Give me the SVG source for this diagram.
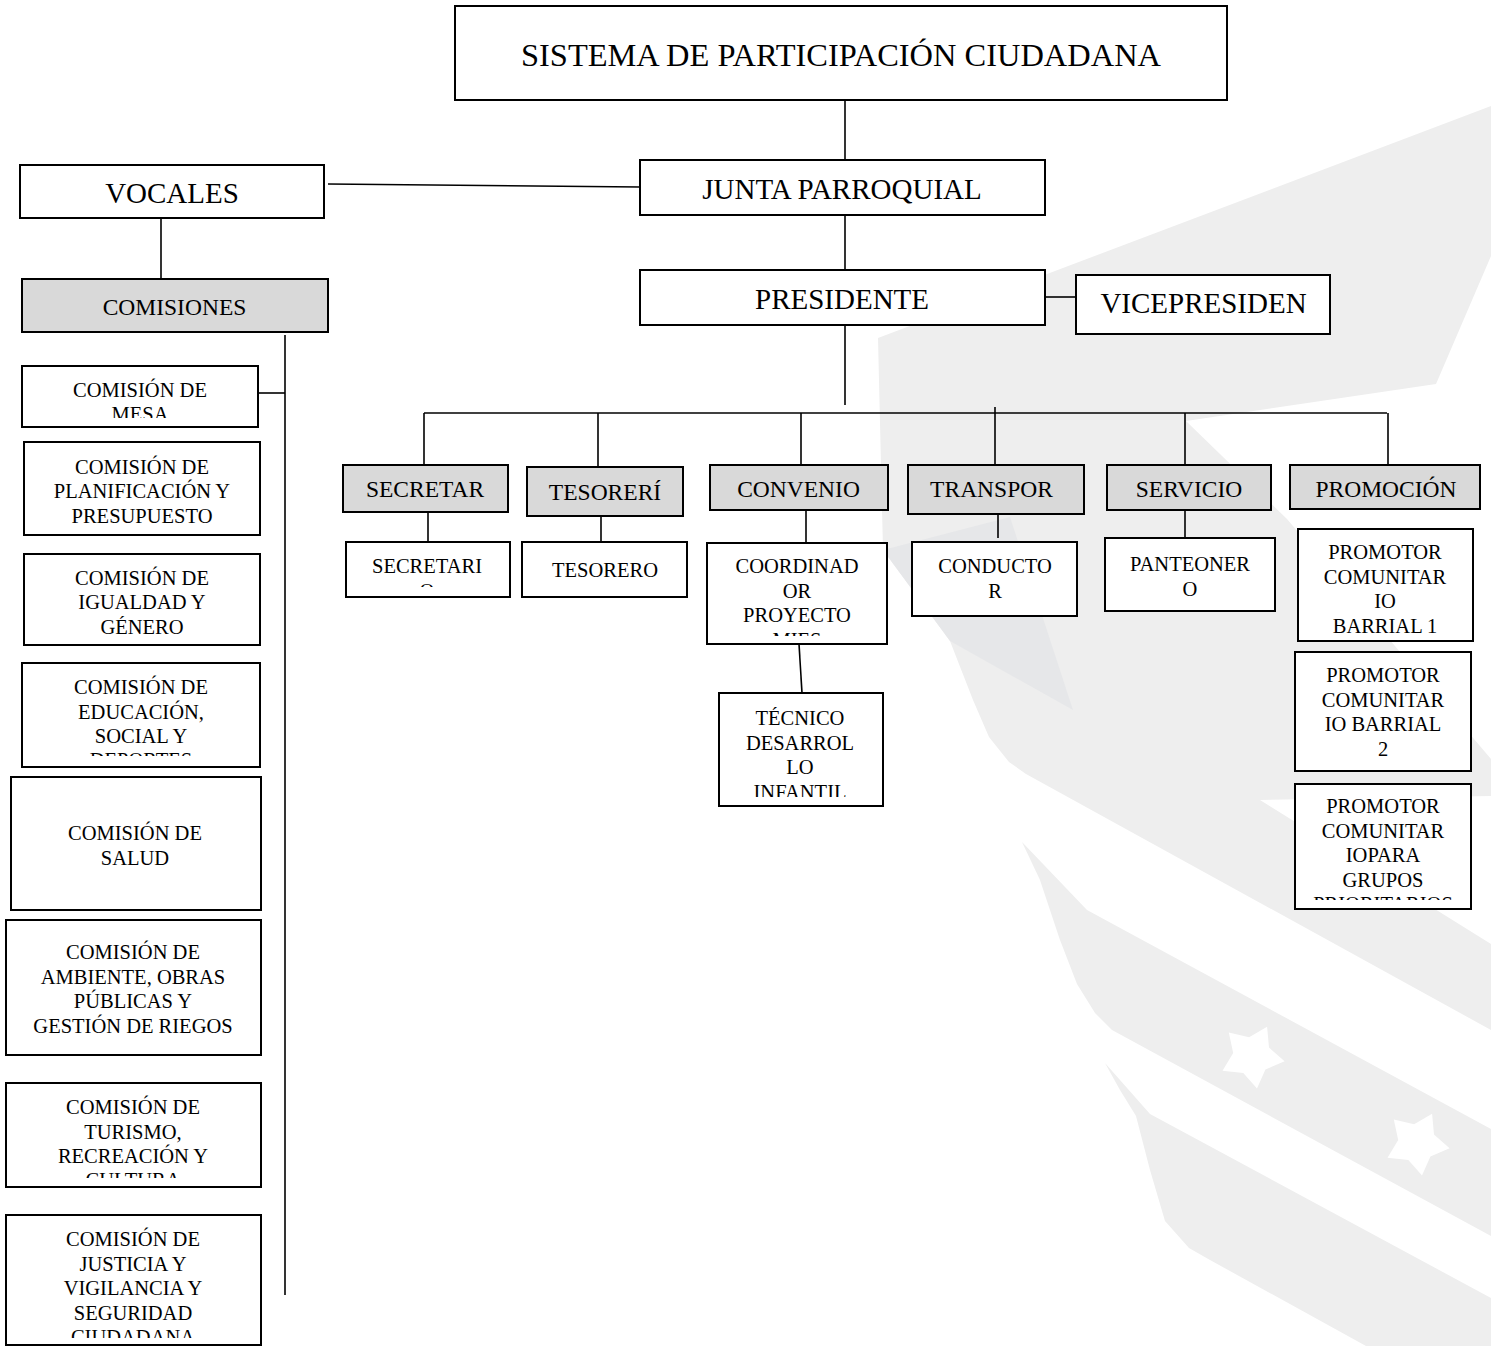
<svg xmlns="http://www.w3.org/2000/svg" width="1491" height="1346" viewBox="0 0 1491 1346">
<style>
.bg{fill:#ffffff}
.wm{fill:#eeeeee}
.wmd{fill:#e6e7e9}
.star{fill:#ffffff}
.box{fill:#ffffff;stroke:#000;stroke-width:2}
.gbox{fill:#d9d9d9;stroke:#000;stroke-width:2}
.t{font-family:"Liberation Serif","Times New Roman",serif;fill:#000;text-anchor:middle}
.f32{font-size:31px}
.f29{font-size:29px}
.f24{font-size:23.5px}
.f21{font-size:20.5px}
#connectors line{stroke:#000;stroke-width:1.6;fill:none}
</style>
<defs>
<polygon id="starShape" points="15.1,-29.3 17.0,-8.5 32.6,5.3 13.4,13.5 5.0,32.6 -8.7,16.9 -29.5,14.8 -18.8,-3.1 -23.2,-23.5 -2.9,-18.8"/>
<clipPath id="cMesa"><rect x="22" y="366" width="236" height="52"/></clipPath>
<clipPath id="cEdu"><rect x="22" y="663" width="238" height="93"/></clipPath>
<clipPath id="cTur"><rect x="6" y="1083" width="255" height="95"/></clipPath>
<clipPath id="cJus"><rect x="6" y="1215" width="255" height="123"/></clipPath>
<clipPath id="cSec"><rect x="346" y="542" width="164" height="45"/></clipPath>
<clipPath id="cCoo"><rect x="707" y="543" width="180" height="93"/></clipPath>
<clipPath id="cTec"><rect x="719" y="693" width="164" height="104"/></clipPath>
<clipPath id="cPro3"><rect x="1295" y="784" width="176" height="116"/></clipPath>
</defs>
<rect class="bg" x="0" y="0" width="1491" height="1346"/>
<g id="watermark">
<polygon class="wm" points="878,338 1491,106 1491,256 1436,384 1186,421 1287,519 1491,759 1491,796 1260,800 1491,944 1491,1030 1026,774 1009,762 989,737 973,700 950,641 883,550"/>
<polygon class="wmd" points="883,550 1010,517 1073,710 950,641"/>
<polygon class="wm" points="1022,842 1040,880 1060,940 1077,984 1095,1013 1112,1030 1491,1236 1491,1129 1087,910"/>
<polygon class="wm" points="1105,1063 1120,1090 1136,1116 1150,1170 1165,1221 1189,1248 1210,1260 1366,1346 1491,1346 1491,1298 1150,1114"/>
<use href="#starShape" class="star" transform="translate(1252,1056)"/>
<use href="#starShape" class="star" transform="translate(1417,1143)"/>
</g>
<g id="connectors">
<line x1="845" y1="100" x2="845" y2="160"/>
<line x1="328" y1="184" x2="640" y2="187"/>
<line x1="845" y1="215" x2="845" y2="270"/>
<line x1="161" y1="218" x2="161" y2="279"/>
<line x1="1045" y1="297" x2="1075" y2="297"/>
<line x1="845" y1="325" x2="845" y2="405"/>
<line x1="424" y1="413" x2="1387" y2="413"/>
<line x1="424" y1="413" x2="424" y2="465"/>
<line x1="598" y1="413" x2="598" y2="467"/>
<line x1="801" y1="413" x2="801" y2="465"/>
<line x1="995" y1="407" x2="995" y2="465"/>
<line x1="1185" y1="413" x2="1185" y2="465"/>
<line x1="1388" y1="413" x2="1388" y2="465"/>
<line x1="285" y1="335" x2="285" y2="1295"/>
<line x1="258" y1="393" x2="285" y2="393"/>
<line x1="428" y1="512" x2="428" y2="542"/>
<line x1="601" y1="516" x2="601" y2="542"/>
<line x1="806" y1="510" x2="806" y2="543"/>
<line x1="799" y1="644" x2="802" y2="693"/>
<line x1="998" y1="505" x2="998" y2="538"/>
<line x1="1185" y1="510" x2="1185" y2="538"/>
</g>
<g id="n-sistema"><rect class="box" x="455" y="6" width="772" height="94"/><text class="t f32" x="841" y="66" textLength="640" lengthAdjust="spacingAndGlyphs">SISTEMA DE PARTICIPACIÓN CIUDADANA</text></g>
<g id="n-junta"><rect class="box" x="640" y="160" width="405" height="55"/><text class="t f29" x="842" y="199">JUNTA PARROQUIAL</text></g>
<g id="n-presidente"><rect class="box" x="640" y="270" width="405" height="55"/><text class="t f29" x="842" y="309">PRESIDENTE</text></g>
<g id="n-vice"><rect class="box" x="1076" y="275" width="254" height="59"/><text class="t f29" x="1203.5" y="313">VICEPRESIDEN</text></g>
<g id="n-vocales"><rect class="box" x="20" y="165" width="304" height="53"/><text class="t f29" x="172" y="203">VOCALES</text></g>
<g id="n-comisiones"><rect class="gbox" x="22" y="279" width="306" height="53"/><text class="t f24" x="174.5" y="315">COMISIONES</text></g>

<g id="n-mesa"><rect class="box" x="22" y="366" width="236" height="61"/><g clip-path="url(#cMesa)"><text class="t f21" x="140" y="397">COMISIÓN DE</text><text class="t f21" x="140" y="421">MESA</text></g></g>
<g id="n-planif"><rect class="box" x="24" y="442" width="236" height="93"/><text class="t f21" x="142" y="473.5">COMISIÓN DE</text><text class="t f21" x="142" y="498">PLANIFICACIÓN Y</text><text class="t f21" x="142" y="522.5">PRESUPUESTO</text></g>
<g id="n-igualdad"><rect class="box" x="24" y="554" width="236" height="91"/><text class="t f21" x="142" y="584.5">COMISIÓN DE</text><text class="t f21" x="142" y="609">IGUALDAD Y</text><text class="t f21" x="142" y="633.5">GÉNERO</text></g>
<g id="n-educacion"><rect class="box" x="22" y="663" width="238" height="104"/><g clip-path="url(#cEdu)"><text class="t f21" x="141" y="694">COMISIÓN DE</text><text class="t f21" x="141" y="718.5">EDUCACIÓN,</text><text class="t f21" x="141" y="743">SOCIAL Y</text><text class="t f21" x="141" y="767">DEPORTES</text></g></g>
<g id="n-salud"><rect class="box" x="11" y="777" width="250" height="133"/><text class="t f21" x="135" y="840">COMISIÓN DE</text><text class="t f21" x="135" y="864.5">SALUD</text></g>
<g id="n-ambiente"><rect class="box" x="6" y="920" width="255" height="135"/><text class="t f21" x="133" y="959">COMISIÓN DE</text><text class="t f21" x="133" y="983.5">AMBIENTE, OBRAS</text><text class="t f21" x="133" y="1008">PÚBLICAS Y</text><text class="t f21" x="133" y="1032.5">GESTIÓN DE RIEGOS</text></g>
<g id="n-turismo"><rect class="box" x="6" y="1083" width="255" height="104"/><g clip-path="url(#cTur)"><text class="t f21" x="133" y="1114">COMISIÓN DE</text><text class="t f21" x="133" y="1138.5">TURISMO,</text><text class="t f21" x="133" y="1163">RECREACIÓN Y</text><text class="t f21" x="133" y="1187">CULTURA</text></g></g>
<g id="n-justicia"><rect class="box" x="6" y="1215" width="255" height="130"/><g clip-path="url(#cJus)"><text class="t f21" x="133" y="1246">COMISIÓN DE</text><text class="t f21" x="133" y="1270.5">JUSTICIA Y</text><text class="t f21" x="133" y="1295">VIGILANCIA Y</text><text class="t f21" x="133" y="1319.5">SEGURIDAD</text><text class="t f21" x="133" y="1344">CIUDADANA</text></g></g>

<g id="n-secretaria"><rect class="gbox" x="343" y="465" width="165" height="47"/><text class="t f24" x="425" y="497">SECRETAR</text></g>
<g id="n-tesoreria"><rect class="gbox" x="527" y="467" width="156" height="49"/><text class="t f24" x="605" y="500">TESORERÍ</text></g>
<g id="n-convenio"><rect class="gbox" x="710" y="465" width="178" height="45"/><text class="t f24" x="798.5" y="497">CONVENIO</text></g>
<g id="n-transpor"><rect class="gbox" x="908" y="465" width="176" height="49"/><text class="t f24" x="991.5" y="497">TRANSPOR</text></g>
<g id="n-servicio"><rect class="gbox" x="1107" y="465" width="164" height="45"/><text class="t f24" x="1189" y="497">SERVICIO</text></g>
<g id="n-promocion"><rect class="gbox" x="1290" y="465" width="190" height="44"/><text class="t f24" x="1386" y="497">PROMOCIÓN</text></g>

<g id="n-secretario"><rect class="box" x="346" y="542" width="164" height="55"/><g clip-path="url(#cSec)"><text class="t f21" x="427" y="573">SECRETARI</text><text class="t f21" x="427" y="597.5">O</text></g></g>
<g id="n-tesorero"><rect class="box" x="522" y="542" width="165" height="55"/><text class="t f21" x="605" y="577">TESORERO</text></g>
<g id="n-coordinador"><rect class="box" x="707" y="543" width="180" height="101"/><g clip-path="url(#cCoo)"><text class="t f21" x="797" y="573">COORDINAD</text><text class="t f21" x="797" y="597.5">OR</text><text class="t f21" x="797" y="622">PROYECTO</text><text class="t f21" x="797" y="646.5">MIES</text></g></g>
<g id="n-tecnico"><rect class="box" x="719" y="693" width="164" height="113"/><g clip-path="url(#cTec)"><text class="t f21" x="800" y="725">TÉCNICO</text><text class="t f21" x="800" y="749.5">DESARROL</text><text class="t f21" x="800" y="774">LO</text><text class="t f21" x="800" y="798.5">INFANTIL</text></g></g>
<g id="n-conductor"><rect class="box" x="912" y="542" width="165" height="74"/><text class="t f21" x="995" y="573">CONDUCTO</text><text class="t f21" x="995" y="597.5">R</text></g>
<g id="n-panteonero"><rect class="box" x="1105" y="538" width="170" height="73"/><text class="t f21" x="1190" y="571">PANTEONER</text><text class="t f21" x="1190" y="595.5">O</text></g>
<g id="n-promotor1"><rect class="box" x="1298" y="529" width="175" height="112"/><text class="t f21" x="1385" y="559">PROMOTOR</text><text class="t f21" x="1385" y="583.5">COMUNITAR</text><text class="t f21" x="1385" y="608">IO</text><text class="t f21" x="1385" y="632.5">BARRIAL 1</text></g>
<g id="n-promotor2"><rect class="box" x="1295" y="652" width="176" height="119"/><text class="t f21" x="1383" y="682">PROMOTOR</text><text class="t f21" x="1383" y="706.5">COMUNITAR</text><text class="t f21" x="1383" y="731">IO BARRIAL</text><text class="t f21" x="1383" y="755.5">2</text></g>
<g id="n-promotor3"><rect class="box" x="1295" y="784" width="176" height="125"/><g clip-path="url(#cPro3)"><text class="t f21" x="1383" y="813">PROMOTOR</text><text class="t f21" x="1383" y="837.5">COMUNITAR</text><text class="t f21" x="1383" y="862">IOPARA</text><text class="t f21" x="1383" y="886.5">GRUPOS</text><text class="t f21" x="1383" y="911">PRIORITARIOS</text></g></g>
</svg>
